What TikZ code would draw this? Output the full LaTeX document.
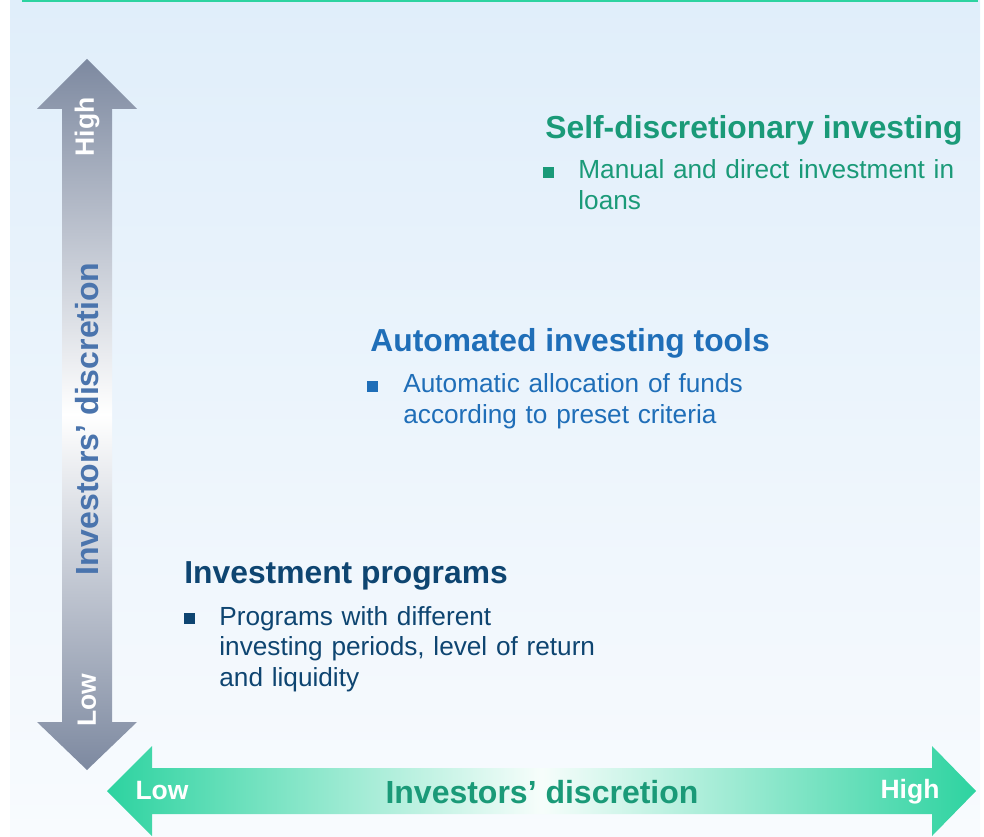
\documentclass[tikz,border=0pt]{standalone}
\usepackage{fontspec}
\setmainfont{Liberation Sans}
\usepackage{xcolor}
\usetikzlibrary{positioning}

\definecolor{tealbar}{HTML}{2DD3A0}
\definecolor{arrowgray}{HTML}{7D89A0}
\definecolor{bgtop}{HTML}{E0EEFA}
\definecolor{bgbottom}{HTML}{F8FBFE}
\definecolor{selfgreen}{HTML}{1A9A78}
\definecolor{autoblue}{HTML}{1F6EB8}
\definecolor{progblue}{HTML}{0E4571}
\definecolor{axisblue}{HTML}{4A74AD}

\begin{document}
\begin{tikzpicture}[x=0.5pt,y=0.5pt,
    heading/.style={anchor=base west, inner sep=0pt, font=\fontsize{15.9}{19}\selectfont\bfseries},
    bodytext/.style={anchor=base west, inner sep=0pt, text width=215pt, align=left,
      font=\fontsize{13.1}{15.3}\selectfont},
    sqbullet/.style={anchor=south west, inner sep=0pt, minimum size=5.4pt, fill=#1},
    axislabel/.style={inner sep=0pt, font=\fontsize{16}{19}\selectfont\bfseries},
    endlabel/.style={inner sep=0pt, text=white, font=\fontsize{13.25}{16}\selectfont\bfseries}]

      \useasboundingbox (0,0) rectangle (984,836);

      % background and top rule
      \shade[top color=bgtop, bottom color=bgbottom] (10,0) rectangle (980,836);
      \fill[tealbar] (22,834) rectangle (978,836);

      % vertical axis arrow
      \shade[top color=arrowgray, bottom color=arrowgray, middle color=white]
        (87,777) -- (137,727) -- (112,727) -- (112,114) -- (137,114) -- (87,66)
        -- (37,114) -- (62,114) -- (62,727) -- (37,727) -- cycle;
      \node[endlabel, rotate=90] (vhigh) at (87,709) {High};
      \node[endlabel, rotate=90] (vlow) at (87,136) {Low};
      \node[axislabel, rotate=90, text=axisblue] (vaxis) at (87,417) {Investors’ discretion};

      % horizontal axis arrow
      \shade[left color=tealbar, right color=tealbar, middle color=tealbar!4]
        (107,45) -- (152,90) -- (152,68) -- (932,68) -- (932,90) -- (976,45)
        -- (932,0) -- (932,22) -- (152,22) -- (152,0) -- cycle;
      \node[endlabel] (hlow) at (162,45) {Low};
      \node[endlabel] (hhigh) at (910,44) {High};
      \node[axislabel, text=selfgreen] (haxis) at (542,44) {Investors’ discretion};

      % self-discretionary investing
      \node[heading, text=selfgreen] (selfhead) at (545,697) {Self-discretionary investing};
      \node[sqbullet=selfgreen] (selfsq) at (543,658) {};
      \node[bodytext, text=selfgreen] (selftext) at (578,657)
        {Manual and direct investment in\\loans};

      % automated investing tools
      \node[heading, text=autoblue] (autohead) at (370,484) {Automated investing tools};
      \node[sqbullet=autoblue] (autosq) at (367,444) {};
      \node[bodytext, text=autoblue] (autotext) at (403,443)
        {Automatic allocation of funds\\according to preset criteria};

      % investment programs
      \node[heading, text=progblue] (proghead) at (184,253) {Investment programs};
      \node[sqbullet=progblue] (progsq) at (184,212) {};
      \node[bodytext, text=progblue] (progtext) at (219,211)
        {Programs with different\\investing periods, level of return\\and liquidity};
    \end{tikzpicture}
\end{document}
